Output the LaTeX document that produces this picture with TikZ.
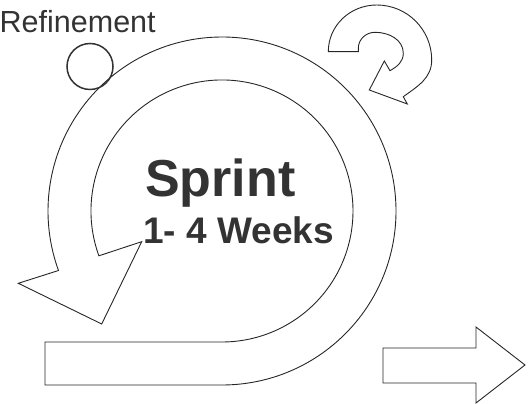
\documentclass[tikz,border=0pt]{standalone}
\usepackage{fontspec}
\setmainfont{Liberation Sans}
\usepackage{xcolor}
\definecolor{inkgray}{HTML}{333333}

\begin{document}
\begin{tikzpicture}[x=1pt,y=1pt,
  outline/.style={draw=black!85,line width=.9pt,line join=miter},
  label text/.style={inner sep=0pt,anchor=base west,text=inkgray}]
  \useasboundingbox (0,0) rectangle (530,404);
  % sprint cycle
  \draw[outline] (45,19) -- (222,19) arc[start angle=-90,end angle=200,radius=174]
    -- (18.3,120.7) -- (101.7,80) -- (141.7,162.3) -- (98.9,148.2)
    arc[start angle=200,end angle=-90,radius=131] -- (45,62) -- cycle;
  % daily loop
  \draw[outline] (328.3,352.3) to[out=90,in=180] (376.7,399)
    to[out=0,in=90] (431.7,344) to[out=-90,in=36] (403.3,307.3)
    -- (407.3,300) -- (369.3,314) -- (384.3,343) -- (390,333.3)
    to[out=30,in=-90] (403.3,350.7) to[out=90,in=0] (375,371.7)
    to[out=180,in=90] (358.3,355.7) -- (358.3,352.3) -- cycle;
  % increment
  \draw[outline] (383,56) -- (476,56) -- (476,77) -- (525,39)
    -- (476,1) -- (476,21) -- (383,21) -- cycle;
  \draw[line width=1.5pt,draw=inkgray] (90,337.5) circle[radius=23];
  \node[label text,font=\fontsize{30.5}{30.5}\selectfont] (refine) at (-.5,371) {Refinement};
  \node[label text,font=\bfseries\fontsize{52}{52}\selectfont] (sprint) at (145,207.3) {Sprint};
  \node[label text,font=\bfseries\fontsize{37}{37}\selectfont] (weeks) at (143,160.7) {1- 4 Weeks};
\end{tikzpicture}
\end{document}
